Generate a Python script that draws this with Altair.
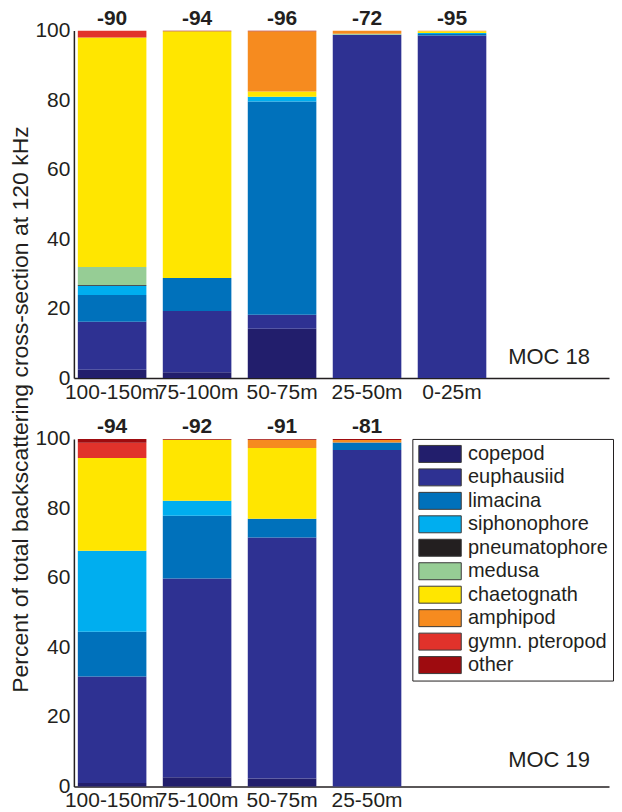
import altair as alt
import pandas as pd

FONT = "Liberation Sans"
TXT = "#231f20"

species = ["copepod", "euphausiid", "limacina", "siphonophore", "pneumatophore",
           "medusa", "chaetognath", "amphipod", "gymn. pteropod", "other"]
colors = ["#221e6c", "#2e3192", "#0071bb", "#00aeef", "#231f20",
          "#96cd95", "#ffe600", "#f68b1f", "#e1322b", "#9e0b0f"]

# MOC 18
moc18_depths = ["100-150m", "75-100m", "50-75m", "25-50m", "0-25m"]
moc18_sv = [-90, -94, -96, -72, -95]
moc18_copepod = [2.4, 1.7, 14.2, 0.0, 0.0]
moc18_euphausiid = [13.8, 17.6, 4.0, 98.8, 98.6]
moc18_limacina = [7.7, 9.5, 61.4, 0.0, 0.4]
moc18_siphonophore = [2.7, 0.0, 1.4, 0.0, 0.3]
moc18_pneumatophore = [0.2, 0.0, 0.0, 0.0, 0.0]
moc18_medusa = [5.2, 0.0, 0.0, 0.3, 0.0]
moc18_chaetognath = [66.0, 71.0, 1.5, 0.0, 0.5]
moc18_amphipod = [0.0, 0.0, 17.3, 0.9, 0.2]
moc18_gymn = [2.0, 0.0, 0.0, 0.0, 0.0]
moc18_other = [0.0, 0.2, 0.2, 0.0, 0.0]

# MOC 19
moc19_depths = ["100-150m", "75-100m", "50-75m", "25-50m"]
moc19_sv = [-94, -92, -91, -81]
moc19_copepod = [1.0, 2.6, 2.3, 0.0]
moc19_euphausiid = [30.6, 57.2, 69.3, 96.8]
moc19_limacina = [12.9, 18.1, 5.4, 2.2]
moc19_siphonophore = [23.3, 4.3, 0.0, 0.0]
moc19_pneumatophore = [0.0, 0.0, 0.0, 0.0]
moc19_medusa = [0.0, 0.0, 0.0, 0.0]
moc19_chaetognath = [26.7, 17.6, 20.4, 0.0]
moc19_amphipod = [0.0, 0.0, 2.4, 0.7]
moc19_gymn = [4.4, 0.0, 0.0, 0.0]
moc19_other = [1.1, 0.2, 0.2, 0.3]

moc18_series = [moc18_copepod, moc18_euphausiid, moc18_limacina, moc18_siphonophore,
                moc18_pneumatophore, moc18_medusa, moc18_chaetognath, moc18_amphipod,
                moc18_gymn, moc18_other]
moc19_series = [moc19_copepod, moc19_euphausiid, moc19_limacina, moc19_siphonophore,
                moc19_pneumatophore, moc19_medusa, moc19_chaetognath, moc19_amphipod,
                moc19_gymn, moc19_other]


def long_df(depths, series):
    rows = []
    for j, (sp, vals) in enumerate(zip(species, series)):
        for d, v in zip(depths, vals):
            rows.append({"depth": d, "species": sp, "idx": j, "value": v})
    return pd.DataFrame(rows)


W, H = 536, 348
FS = 21


def panel(depths, series, sv, label, label_y, show_legend, ytitle):
    df = long_df(depths, series)
    sv_df = pd.DataFrame({"depth": depths, "sv": [str(s) for s in sv]})
    # both panels share the same 5-slot band layout (MOC 19 has an empty last slot)
    slots = depths + [" "] * (5 - len(depths))
    xscale = alt.Scale(domain=slots, paddingInner=0.193, paddingOuter=0.745, align=0.031)
    xaxis = alt.Axis(title=None, labelAngle=0, labelFontSize=FS, labelFont=FONT,
                     labelColor=TXT, ticks=False, domainColor="#231f20",
                     domainWidth=1.5, labelPadding=3, labelOverlap=False,
                     labelBound=False, labelFlush=False)
    yaxis_kw = dict(values=[0, 20, 40, 60, 80, 100], labelFontSize=FS, labelFont=FONT,
                    labelColor=TXT, ticks=False, grid=False, domainColor="#231f20",
                    domainWidth=1.5, labelPadding=4)
    if ytitle:
        yaxis = alt.Axis(title=ytitle, titleFontSize=23, titleFont=FONT,
                         titleFontWeight="normal", titleColor=TXT, titleY=379,
                         titlePadding=2, **yaxis_kw)
    else:
        yaxis = alt.Axis(title=None, **yaxis_kw)

    if show_legend:
        legend = alt.Legend(orient="none", legendX=339, legendY=0, title=None,
                            symbolType="M-2.5,-1H2.5V1H-2.5Z", symbolSize=289,
                            symbolStrokeColor="#3a3a3a", symbolStrokeWidth=1,
                            symbolOffset=12.75, labelOffset=18,
                            labelFontSize=20, labelFont=FONT, labelColor=TXT,
                            strokeColor="#231f20", fillColor="white", padding=5,
                            rowPadding=1.5, symbolOpacity=1)
    else:
        legend = None

    bars = alt.Chart(df).mark_bar(strokeWidth=0).encode(
        x=alt.X("depth:N", sort=slots, scale=xscale, axis=xaxis),
        y=alt.Y("value:Q", stack="zero", scale=alt.Scale(domain=[0, 100], nice=False),
                axis=yaxis),
        color=alt.Color("species:N", scale=alt.Scale(domain=species, range=colors),
                        legend=legend),
        order=alt.Order("idx:Q", sort="ascending"),
    )
    nums = alt.Chart(sv_df).mark_text(fontWeight="bold", fontSize=21, font=FONT,
                                      color=TXT, dy=-6, baseline="alphabetic").encode(
        x=alt.X("depth:N", sort=slots),
        y=alt.datum(100),
        text="sv:N",
    )
    moc = alt.Chart(pd.DataFrame({"t": [label]})).mark_text(
        fontSize=22, font=FONT, color=TXT, align="left", baseline="alphabetic").encode(
        x=alt.value(435), y=alt.value(label_y), text="t:N")
    return alt.layer(bars, nums, moc).properties(width=W, height=H)


top = panel(moc18_depths, moc18_series, moc18_sv, "MOC 18", 334, False,
            "Percent of total backscattering cross-section at 120 kHz")
bottom = panel(moc19_depths, moc19_series, moc19_sv, "MOC 19", 329, True, None)

chart = alt.vconcat(top, bottom, spacing=61, bounds="flush").resolve_legend(
    color="independent").configure_view(stroke=None).properties(
    padding={"left": 1, "top": -1, "right": 0, "bottom": 0})

chart.save("out.html", embed_options={"renderer": "svg", "actions": False})
